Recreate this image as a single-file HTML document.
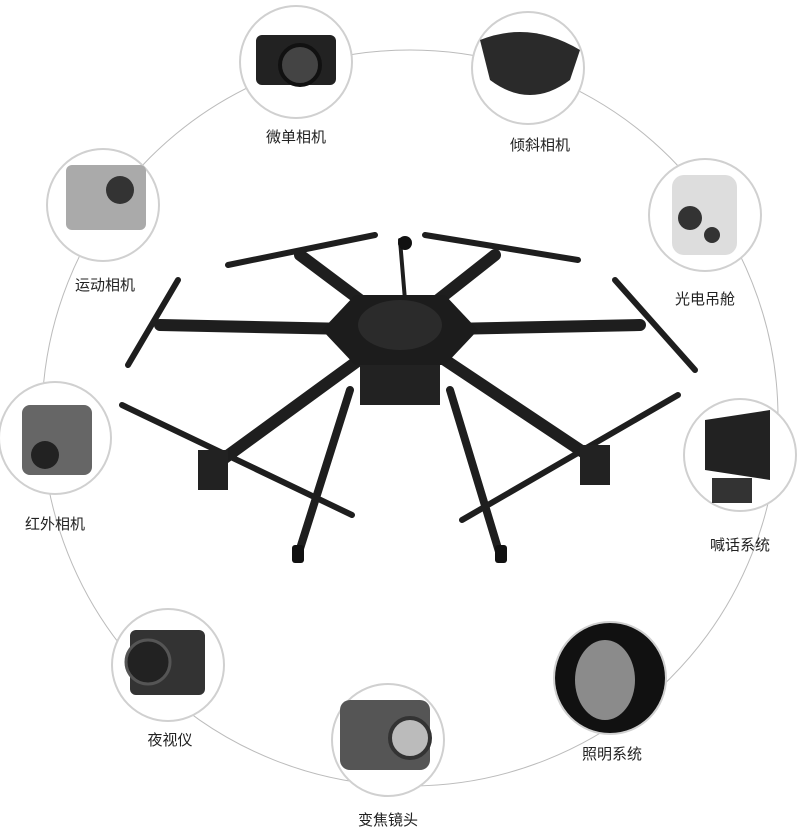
<!DOCTYPE html>
<html><head><meta charset="utf-8"><style>
body{margin:0;background:#fff;width:800px;height:827px;overflow:hidden;position:relative;font-family:"Liberation Sans","Noto Sans CJK SC",sans-serif}
.l{position:absolute;font-size:15px;color:#222;transform:translateX(-50%);white-space:nowrap}
</style></head><body>
<svg width="800" height="827" style="position:absolute;left:0;top:0">
<circle cx="410" cy="418" r="368" fill="none" stroke="#bbb" stroke-width="1"/>
<g stroke="#d0d0d0" stroke-width="2">
<circle cx="296" cy="62" r="56" fill="#fff"/>
<circle cx="528" cy="68" r="56" fill="#fff"/>
<circle cx="705" cy="215" r="56" fill="#fff"/>
<circle cx="740" cy="455" r="56" fill="#fff"/>
<circle cx="610" cy="678" r="56" fill="#fff"/>
<circle cx="388" cy="740" r="56" fill="#fff"/>
<circle cx="168" cy="665" r="56" fill="#fff"/>
<circle cx="55" cy="438" r="56" fill="#fff"/>
<circle cx="103" cy="205" r="56" fill="#fff"/>
</g>
<rect x="256" y="35" width="80" height="50" rx="6" fill="#222"/><circle cx="300" cy="65" r="20" fill="#444" stroke="#111" stroke-width="4"/>
<path d="M480 40 Q530 20 580 50 L570 80 Q530 110 490 80Z" fill="#2a2a2a"/>
<rect x="672" y="175" width="65" height="80" rx="12" fill="#ddd"/><circle cx="690" cy="218" r="12" fill="#333"/><circle cx="712" cy="235" r="8" fill="#333"/>
<path d="M705 420 L770 410 L770 480 L705 470Z" fill="#222"/><rect x="712" y="478" width="40" height="25" fill="#333"/>
<circle cx="610" cy="678" r="55" fill="#111"/><ellipse cx="605" cy="680" rx="30" ry="40" fill="#ddd" opacity=".6"/>
<rect x="340" y="700" width="90" height="70" rx="10" fill="#555"/><circle cx="410" cy="738" r="20" fill="#bbb" stroke="#333" stroke-width="4"/>
<rect x="130" y="630" width="75" height="65" rx="6" fill="#333"/><circle cx="148" cy="662" r="22" fill="#222" stroke="#555" stroke-width="3"/>
<rect x="22" y="405" width="70" height="70" rx="8" fill="#666"/><circle cx="45" cy="455" r="14" fill="#222"/>
<rect x="66" y="165" width="80" height="65" rx="6" fill="#aaa"/><circle cx="120" cy="190" r="14" fill="#333"/>
<g stroke="#1e1e1e" stroke-linecap="round">
<g stroke-width="12">
<line x1="400" y1="330" x2="300" y2="255"/><line x1="400" y1="330" x2="495" y2="255"/>
<line x1="400" y1="330" x2="160" y2="325"/><line x1="400" y1="330" x2="640" y2="325"/>
<line x1="400" y1="330" x2="215" y2="465"/><line x1="400" y1="330" x2="595" y2="460"/>
</g>
<g stroke-width="8"><line x1="350" y1="390" x2="298" y2="555"/><line x1="450" y1="390" x2="500" y2="555"/></g>
<g stroke-width="6">
<line x1="228" y1="265" x2="375" y2="235"/><line x1="425" y1="235" x2="578" y2="260"/>
<line x1="178" y1="280" x2="128" y2="365"/><line x1="615" y1="280" x2="695" y2="370"/>
<line x1="122" y1="405" x2="352" y2="515"/><line x1="462" y1="520" x2="678" y2="395"/>
</g>
<line x1="405" y1="300" x2="400" y2="240" stroke-width="4"/>
</g>
<rect x="360" y="350" width="80" height="55" fill="#222"/>
<polygon points="355,295 445,295 478,330 445,365 355,365 322,330" fill="#1c1c1c"/>
<ellipse cx="400" cy="325" rx="42" ry="25" fill="#2b2b2b"/>
<circle cx="405" cy="243" r="7" fill="#111"/>
<rect x="198" y="450" width="30" height="40" fill="#222"/><rect x="580" y="445" width="30" height="40" fill="#222"/>
<rect x="292" y="545" width="12" height="18" rx="3" fill="#111"/><rect x="495" y="545" width="12" height="18" rx="3" fill="#111"/>
</svg>
<div class="l" style="left:296px;top:126px">微单相机</div>
<div class="l" style="left:540px;top:134px">倾斜相机</div>
<div class="l" style="left:705px;top:288px">光电吊舱</div>
<div class="l" style="left:740px;top:534px">喊话系统</div>
<div class="l" style="left:612px;top:743px">照明系统</div>
<div class="l" style="left:388px;top:809px">变焦镜头</div>
<div class="l" style="left:170px;top:729px">夜视仪</div>
<div class="l" style="left:55px;top:513px">红外相机</div>
<div class="l" style="left:105px;top:274px">运动相机</div>
</body></html>
